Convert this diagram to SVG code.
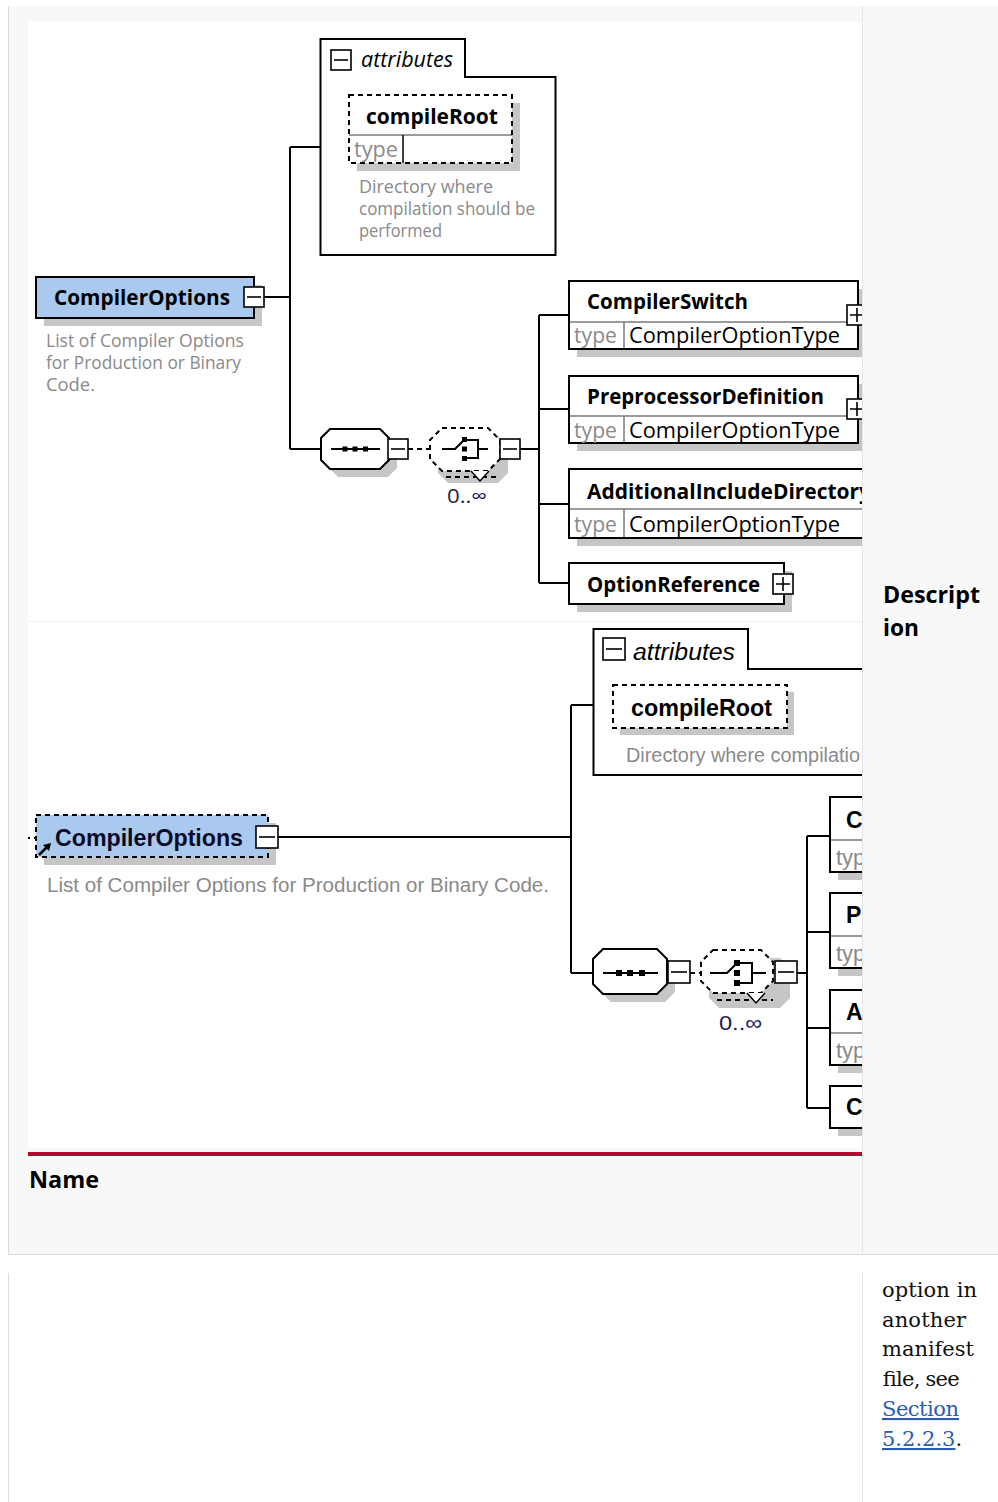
<svg xmlns="http://www.w3.org/2000/svg" xmlns:xlink="http://www.w3.org/1999/xlink" width="998" height="1502" viewBox="0 0 998 1502">
<defs>
<clipPath id="clip1"><rect x="28" y="22" width="834" height="599"/></clipPath>
<clipPath id="clip2"><rect x="28" y="622" width="834" height="526"/></clipPath>
<style>
.ln{fill:none;stroke:#000;stroke-width:2}
.dl{fill:none;stroke:#000;stroke-width:2;stroke-dasharray:5 4}
.box{fill:#fff;stroke:#000;stroke-width:2}
.dbox{fill:none;stroke:#000;stroke-width:2;stroke-dasharray:5 4}
.sh{fill:#c6c6c6}
.dv{stroke:#7a7a7a;stroke-width:1.5;fill:none}
.ic{fill:#fff;stroke:#000;stroke-width:1.6}
.icl{fill:none;stroke:#000;stroke-width:1.6}
.f1{font-family:"Open Sans","Noto Sans","DejaVu Sans",sans-serif}
.f2{font-family:"Liberation Sans",Arial,sans-serif}
.f3{font-family:"DejaVu Serif","Liberation Serif",serif;font-size:21px;fill:#111}
.b{font-weight:bold}
.gy{fill:#8a8a8a}
.lnk{fill:#2a5db0;text-decoration:underline}
</style>
<g id="minus"><rect class="ic" x="0" y="0" width="20" height="20"/><path class="icl" d="M3,10H17"/></g>
<g id="plus"><rect class="ic" x="0" y="0" width="20" height="20"/><path class="icl" d="M3,10H17M10,3V17"/></g>
<g id="minus2"><rect class="ic" x="0" y="0" width="22" height="22"/><path class="icl" d="M3,11H19"/></g>
</defs>

<!-- page background -->
<rect x="0" y="0" width="998" height="1502" fill="#fff"/>
<rect x="8" y="6" width="990" height="1248" fill="#f8f8f8"/>
<line x1="8.5" y1="6" x2="8.5" y2="1254" stroke="#dcdcdc" stroke-width="1"/>
<line x1="8" y1="1254.5" x2="998" y2="1254.5" stroke="#dcdcdc" stroke-width="1"/>
<line x1="862.5" y1="6" x2="862.5" y2="1254" stroke="#e6e6e6" stroke-width="1"/>
<rect x="28" y="22" width="834" height="599" fill="#fff"/>
<rect x="28" y="622" width="834" height="526" fill="#fff"/>
<line x1="28" y1="621.5" x2="862" y2="621.5" stroke="#f0f0f0" stroke-width="1"/>
<rect x="28" y="1152" width="834" height="4" fill="#b50a2e"/>
<text x="29" y="1188" class="f1 b" font-size="24" fill="#000" textLength="70" lengthAdjust="spacingAndGlyphs">Name</text>
<text x="883" y="603" class="f1 b" font-size="24" fill="#000" textLength="97" lengthAdjust="spacingAndGlyphs">Descript</text>
<text x="883" y="636" class="f1 b" font-size="24" fill="#000" textLength="36" lengthAdjust="spacingAndGlyphs">ion</text>

<!-- bottom block -->
<line x1="8.5" y1="1273" x2="8.5" y2="1502" stroke="#dcdcdc" stroke-width="1"/>
<line x1="862.5" y1="1273" x2="862.5" y2="1502" stroke="#e6e6e6" stroke-width="1"/>
<g id="bottom-text">
<text x="882" y="1297" class="f3" textLength="95">option in</text>
<text x="882" y="1327" class="f3" textLength="84">another</text>
<text x="882" y="1356" class="f3" textLength="92">manifest</text>
<text x="882" y="1386" class="f3" textLength="77">file, see</text>
<text x="882" y="1416" class="f3 lnk" textLength="77">Section</text>
<text x="882" y="1446" class="f3"><tspan class="lnk">5.2.2.3</tspan>.</text>
</g>

<!-- ================= diagram 1 ================= -->
<g clip-path="url(#clip1)">
<g id="connectors1">
<path class="ln" d="M264,297H290M290,147V449M290,147H320M290,449H321"/>
<path class="dl" d="M408,449H430"/>
<path class="ln" d="M520,449H539M539,315V583M539,315H569M539,409H569M539,504H569M539,583H569"/>
</g>

<g id="attributes1">
<path class="box" d="M320.5,255 V39 H465 V77 H555.5 V255 Z"/>
<use xlink:href="#minus" x="331" y="50"/>
<text x="361" y="67" class="f1" font-style="italic" font-size="22" textLength="92" lengthAdjust="spacingAndGlyphs" fill="#000">attributes</text>
</g>

<g id="compileRoot1">
<rect class="sh" x="357" y="103" width="163" height="68"/>
<rect x="349" y="95" width="163" height="68" fill="#fff"/>
<line class="dv" x1="349" y1="135" x2="512" y2="135"/>
<line x1="403" y1="135" x2="403" y2="163" stroke="#000" stroke-width="1.5"/>
<rect class="dbox" x="349" y="95" width="163" height="68"/>
<text x="366" y="124" class="f1 b" font-size="21" textLength="132" lengthAdjust="spacingAndGlyphs" fill="#000">compileRoot</text>
<text x="354" y="157" class="f1 gy" font-size="21" textLength="44" lengthAdjust="spacingAndGlyphs">type</text>
<text x="359" y="193" class="f1 gy" font-size="18" textLength="134" lengthAdjust="spacingAndGlyphs">Directory where</text>
<text x="359" y="215" class="f1 gy" font-size="18" textLength="176" lengthAdjust="spacingAndGlyphs">compilation should be</text>
<text x="359" y="237" class="f1 gy" font-size="18" textLength="83" lengthAdjust="spacingAndGlyphs">performed</text>
</g>

<g id="CompilerOptions1">
<rect class="sh" x="44" y="285" width="218" height="41"/>
<rect x="36" y="277" width="218" height="41" fill="#a9c9ef" stroke="#000" stroke-width="2"/>
<use xlink:href="#minus" x="244" y="287"/>
<text x="54" y="305" class="f1 b" font-size="21" textLength="176" lengthAdjust="spacingAndGlyphs" fill="#000">CompilerOptions</text>
<text x="46" y="347" class="f1 gy" font-size="18" textLength="198" lengthAdjust="spacingAndGlyphs">List of Compiler Options</text>
<text x="46" y="369" class="f1 gy" font-size="18" textLength="195" lengthAdjust="spacingAndGlyphs">for Production or Binary</text>
<text x="46" y="391" class="f1 gy" font-size="18" textLength="49" lengthAdjust="spacingAndGlyphs">Code.</text>
</g>

<g id="sequence1">
<path class="sh" d="M338,437H388L397,446V468L388,477H338L329,468V446Z"/>
<path class="box" d="M330,429H380L389,438V460L380,469H330L321,460V438Z"/>
<path class="ln" d="M331,449H380"/>
<rect x="342.5" y="446.5" width="5" height="5"/>
<rect x="352.5" y="446.5" width="5" height="5"/>
<rect x="363" y="446.5" width="5" height="5"/>
<use xlink:href="#minus" x="388" y="439"/>
</g>

<g id="choice1">
<path class="sh" d="M448,436H498L508,446V473L498,483H448L438,473V446Z"/>
<path d="M442,428H488L500,440V459L488,471H442L430,459V440Z" fill="#fff"/>
<path class="dbox" d="M442,428H488L500,440V459L488,471H442L430,459V440Z"/>
<path class="dl" d="M446,477H496"/>
<path fill="#fff" stroke="#000" stroke-width="1.5" d="M471,471L480,481L489,471"/>
<path class="ln" d="M442,449H455L463,441"/>
<rect x="462" y="437" width="5" height="5"/>
<rect x="462" y="446.5" width="5" height="5"/>
<rect x="462" y="456" width="5" height="5"/>
<path class="ln" d="M467,440H478V458H467M478,449H488"/>
<use xlink:href="#minus" x="500" y="439"/>
<text x="447" y="503" class="f1" font-size="20" textLength="40" lengthAdjust="spacingAndGlyphs" fill="#202050">0..∞</text>
</g>

<g id="CompilerSwitch1">
<rect class="sh" x="577" y="289" width="289" height="68"/>
<rect class="box" x="569" y="281" width="289" height="68"/>
<line class="dv" x1="570" y1="322" x2="857" y2="322"/>
<line class="dv" x1="624" y1="322" x2="624" y2="348"/>
<text x="587" y="309" class="f1 b" font-size="21" textLength="161" lengthAdjust="spacingAndGlyphs" fill="#000">CompilerSwitch</text>
<text x="574" y="343" class="f1 gy" font-size="21" textLength="43" lengthAdjust="spacingAndGlyphs">type</text>
<text x="629" y="343" class="f1" font-size="21" textLength="211" lengthAdjust="spacingAndGlyphs" fill="#000">CompilerOptionType</text>
<use xlink:href="#plus" x="847" y="305"/>
</g>

<g id="PreprocessorDefinition1">
<rect class="sh" x="577" y="384" width="289" height="67"/>
<rect class="box" x="569" y="376" width="289" height="67"/>
<line class="dv" x1="570" y1="416" x2="857" y2="416"/>
<line class="dv" x1="624" y1="416" x2="624" y2="442"/>
<text x="587" y="404" class="f1 b" font-size="21" textLength="237" lengthAdjust="spacingAndGlyphs" fill="#000">PreprocessorDefinition</text>
<text x="574" y="438" class="f1 gy" font-size="21" textLength="43" lengthAdjust="spacingAndGlyphs">type</text>
<text x="629" y="438" class="f1" font-size="21" textLength="211" lengthAdjust="spacingAndGlyphs" fill="#000">CompilerOptionType</text>
<use xlink:href="#plus" x="847" y="399"/>
</g>

<g id="AdditionalIncludeDirectory1">
<rect class="sh" x="577" y="477" width="320" height="69"/>
<rect class="box" x="569" y="469" width="320" height="69"/>
<line class="dv" x1="570" y1="509" x2="888" y2="509"/>
<line class="dv" x1="624" y1="509" x2="624" y2="537"/>
<text x="587" y="499" class="f1 b" font-size="21" textLength="284" lengthAdjust="spacingAndGlyphs" fill="#000">AdditionalIncludeDirectory</text>
<text x="574" y="532" class="f1 gy" font-size="21" textLength="43" lengthAdjust="spacingAndGlyphs">type</text>
<text x="629" y="532" class="f1" font-size="21" textLength="211" lengthAdjust="spacingAndGlyphs" fill="#000">CompilerOptionType</text>
</g>

<g id="OptionReference1">
<rect class="sh" x="577" y="571" width="215" height="41"/>
<rect class="box" x="569" y="563" width="215" height="41"/>
<text x="587" y="592" class="f1 b" font-size="21" textLength="173" lengthAdjust="spacingAndGlyphs" fill="#000">OptionReference</text>
<use xlink:href="#plus" x="773" y="574"/>
</g>
</g>

<!-- ================= diagram 2 ================= -->
<g clip-path="url(#clip2)">
<g id="connectors2">
<path class="dl" d="M25,838H36"/>
<path class="ln" d="M277,837H571M571,705V973M571,705H593M571,973H593"/>
<path class="dl" d="M690,973H701"/>
<path class="ln" d="M797,973H807M807,836V1108M807,836H830M807,932H830M807,1028H830M807,1108H830"/>
</g>

<g id="attributes2">
<path class="box" d="M593.5,775 V629 H748 V669 H880 V775 Z"/>
<use xlink:href="#minus2" x="603" y="638"/>
<text x="633" y="660" class="f2" font-style="italic" font-size="23" textLength="102" lengthAdjust="spacingAndGlyphs" fill="#000">attributes</text>
</g>

<g id="compileRoot2">
<rect class="sh" x="620" y="692" width="174" height="43"/>
<rect x="613" y="685" width="174" height="43" fill="#fff"/>
<rect class="dbox" x="613" y="685" width="174" height="43"/>
<text x="631" y="716" class="f2 b" font-size="23" textLength="141" lengthAdjust="spacingAndGlyphs" fill="#000">compileRoot</text>
<text x="626" y="762" class="f2 gy" font-size="20" textLength="234" lengthAdjust="spacingAndGlyphs">Directory where compilatio</text>
</g>

<g id="CompilerOptions2">
<rect class="sh" x="44" y="823" width="232" height="42"/>
<rect x="36" y="815" width="232" height="42" fill="#a9c9ef"/>
<rect class="dbox" x="36" y="815" width="232" height="42"/>
<use xlink:href="#minus2" x="256" y="826"/>
<text x="55" y="846" class="f2 b" font-size="23" textLength="188" lengthAdjust="spacingAndGlyphs" fill="#0a0a28">CompilerOptions</text>
<path d="M39,855L47,847" stroke="#000" stroke-width="2.5" fill="none"/>
<path d="M51,843L43,845L49,851Z" fill="#000"/>
<text x="47" y="892" class="f2 gy" font-size="20.5" textLength="502" lengthAdjust="spacingAndGlyphs">List of Compiler Options for Production or Binary Code.</text>
</g>

<g id="sequence2">
<path class="sh" d="M611,957H665L675,967V992L665,1002H611L601,992V967Z"/>
<path class="box" d="M603,949H657L667,959V984L657,994H603L593,984V959Z"/>
<path class="ln" d="M603,973H658"/>
<rect x="616" y="970" width="6" height="6"/>
<rect x="627" y="970" width="6" height="6"/>
<rect x="639" y="970" width="6" height="6"/>
<use xlink:href="#minus2" x="668" y="961"/>
</g>

<g id="choice2">
<path class="sh" d="M719,958H780L790,968V998L780,1008H719L709,998V968Z"/>
<path d="M713,950H761L773,962V981L761,993H713L701,981V962Z" fill="#fff"/>
<path class="dbox" d="M713,950H761L773,962V981L761,993H713L701,981V962Z"/>
<path class="dl" d="M717,1000H773"/>
<path fill="#fff" stroke="#000" stroke-width="1.5" d="M747,993L756,1003L765,993"/>
<path class="ln" d="M710,973H727L735,965"/>
<rect x="734" y="960" width="6" height="6"/>
<rect x="734" y="970" width="6" height="6"/>
<rect x="734" y="980" width="6" height="6"/>
<path class="ln" d="M740,963H752V983H740M752,973H766"/>
<use xlink:href="#minus2" x="775" y="961"/>
<text x="719" y="1030" class="f2" font-size="21" textLength="43" lengthAdjust="spacingAndGlyphs" fill="#1b1b5e">0..∞</text>
</g>

<g id="CompilerSwitch2">
<rect class="sh" x="838" y="805" width="60" height="75"/>
<rect class="box" x="830" y="797" width="60" height="75"/>
<line class="dv" x1="831" y1="840" x2="889" y2="840"/>
<text x="846" y="828" class="f2 b" font-size="23" fill="#000">C</text>
<text x="836" y="865" class="f2 gy" font-size="22">typ</text>
</g>

<g id="PreprocessorDefinition2">
<rect class="sh" x="838" y="901" width="60" height="75"/>
<rect class="box" x="830" y="893" width="60" height="75"/>
<line class="dv" x1="831" y1="936" x2="889" y2="936"/>
<text x="846" y="923" class="f2 b" font-size="23" fill="#000">P</text>
<text x="836" y="961" class="f2 gy" font-size="22">typ</text>
</g>

<g id="AdditionalIncludeDirectory2">
<rect class="sh" x="838" y="998" width="60" height="75"/>
<rect class="box" x="830" y="990" width="60" height="75"/>
<line class="dv" x1="831" y1="1033" x2="889" y2="1033"/>
<text x="846" y="1020" class="f2 b" font-size="23" fill="#000">A</text>
<text x="836" y="1058" class="f2 gy" font-size="22">typ</text>
</g>

<g id="OptionReference2">
<rect class="sh" x="838" y="1094" width="60" height="42"/>
<rect class="box" x="830" y="1086" width="60" height="42"/>
<text x="846" y="1115" class="f2 b" font-size="23" fill="#000">C</text>
</g>
</g>
</svg>
